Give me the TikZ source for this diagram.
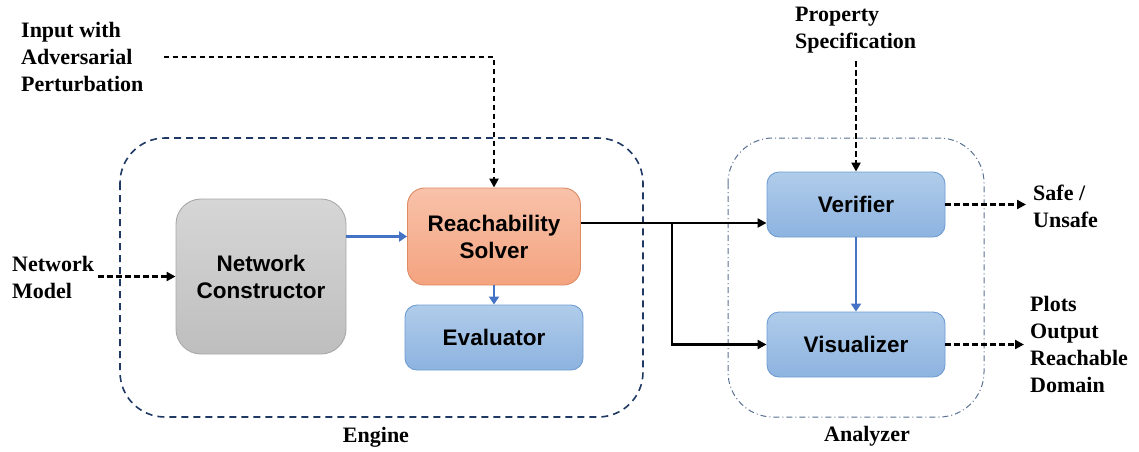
\documentclass[tikz,border=0pt]{standalone}
\usepackage{fontspec}
\setmainfont{Liberation Serif}
\newfontfamily\boxfont{Liberation Sans}
\usetikzlibrary{arrows.meta,calc}

\definecolor{enginecol}{HTML}{1F3864}
\definecolor{analyzercol}{HTML}{5A7090}
\definecolor{flowblue}{HTML}{4472C4}
\definecolor{graytop}{HTML}{D6D6D6}
\definecolor{graybot}{HTML}{BEBEBE}
\definecolor{grayedge}{HTML}{A8A8A8}
\definecolor{orangetop}{HTML}{F8C2AA}
\definecolor{orangebot}{HTML}{F4A37F}
\definecolor{orangeedge}{HTML}{DE8A62}
\definecolor{bluetop}{HTML}{B0CCEA}
\definecolor{bluebot}{HTML}{8DB3E0}
\definecolor{blueedge}{HTML}{6E9CD2}

\tikzset{
  module/.style={draw, line width=0.9pt, rounded corners=12pt,
    font=\boxfont\bfseries\fontsize{22.5}{27}\selectfont, align=center, inner sep=0pt},
  graymod/.style={module, draw=grayedge, top color=graytop, bottom color=graybot, rounded corners=25pt},
  orangemod/.style={module, draw=orangeedge, top color=orangetop, bottom color=orangebot, rounded corners=17pt},
  bluemod/.style={module, draw=blueedge, top color=bluetop, bottom color=bluebot},
  lbl/.style={font=\bfseries\fontsize{22}{27}\selectfont, align=left, inner sep=0pt},
  grouplbl/.style={font=\bfseries\fontsize{22}{27}\selectfont, inner sep=0pt},
  tip/.style={-{Triangle[length=9pt,width=9pt]}},
  dasharrow/.style={tip, line width=2.6pt, dash pattern=on 5.5pt off 3.5pt, black},
  solidarrow/.style={tip, line width=2.3pt, black},
  bluearrow/.style={-{Triangle[length=8pt,width=10pt]}, line width=2.3pt, flowblue},
}

\begin{document}
\begin{tikzpicture}[x=1pt,y=-1pt]
  \useasboundingbox (0,0) rectangle (1139,451);

  % grouping frames
  \draw[enginecol, line width=1.6pt, dash pattern=on 7pt off 5pt, rounded corners=45pt]
    (120,138) rectangle (643,417);
  \draw[analyzercol, line width=1pt, dash pattern=on 6pt off 3pt on 1pt off 3pt, rounded corners=45pt]
    (728,138) rectangle (984,417);
  \node[grouplbl] (engine) at (376,437) {Engine};
  \node[grouplbl] (analyzer) at (867,436) {Analyzer};

  % modules
  \node[graymod, minimum width=170pt, minimum height=155pt] (nc) at (261,276.5) {Network\\Constructor};
  \node[orangemod, minimum width=173pt, minimum height=97pt] (rs) at (494,236.5) {Reachability\\Solver};
  \node[bluemod, minimum width=178pt, minimum height=65pt] (ev) at (494,337.5) {Evaluator};
  \node[bluemod, minimum width=178pt, minimum height=65pt] (ver) at (856,204.5) {Verifier};
  \node[bluemod, minimum width=178pt, minimum height=65pt] (vis) at (856,344.5) {Visualizer};

  % external inputs and outputs
  \node[lbl, anchor=west] (inp) at (21,57) {Input with\\Adversarial\\Perturbation};
  \node[lbl, anchor=west] (nm) at (12,277) {Network\\Model};
  \node[lbl, anchor=west] (prop) at (795,30) {Property\\Specification};
  \node[lbl, anchor=west] (safe) at (1033,206) {Safe /\\Unsafe};
  \node[lbl, anchor=west] (plots) at (1030,344.5) {Plots\\Output\\Reachable\\Domain};

  % inputs
  \draw[dasharrow] ([xshift=20pt]inp.east) -| (rs.north);
  \draw[dasharrow] ([xshift=4pt]nm.east |- nc.west) -- (nc.west);
  \draw[dasharrow] ([yshift=-8pt]ver.north |- prop.south) -- (ver.north);

  % engine internals
  \draw[bluearrow] (nc.east |- rs.west) -- (rs.west);
  \draw[bluearrow] (rs.south) -- (ev.north);

  % engine to analyzer
  \coordinate (split) at (672,223);
  \draw[solidarrow] (rs.east |- split) -- (ver.west |- split);
  \draw[solidarrow] (split) |- (vis.west);

  % analyzer internals
  \draw[bluearrow] (ver.south) -- (vis.north);

  % outputs
  \draw[dasharrow] (ver.east) -- ([xshift=-7pt]safe.west |- ver.east);
  \draw[dasharrow] (vis.east) -- ([xshift=-6pt]plots.west |- vis.east);
\end{tikzpicture}
\end{document}
